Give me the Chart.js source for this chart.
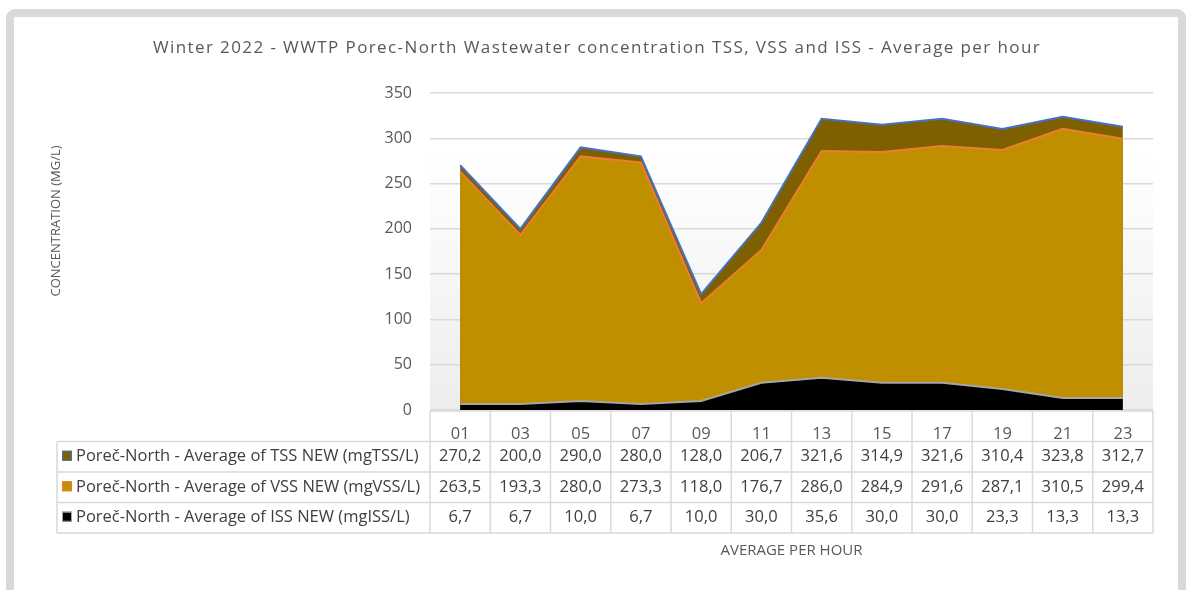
<!DOCTYPE html>
<html>
<head>
<meta charset="utf-8">
<title>WWTP Porec-North TSS VSS ISS</title>
<script src="https://cdn.jsdelivr.net/npm/chart.js@4.4.1/dist/chart.umd.min.js"></script>
<style>
  body { margin: 0; background: #fff; }
  canvas { display: block; }
</style>
</head>
<body>
<canvas id="myChart" width="1192" height="590"></canvas>
<script>
// chart text
var chartTitle = 'Winter 2022 - WWTP Porec-North Wastewater concentration TSS, VSS and ISS - Average per hour';
var yTitle = 'CONCENTRATION (MG/L)';
var xTitle = 'AVERAGE PER HOUR';

// categories along the x-axis (hour of day)
var hours = ['01', '03', '05', '07', '09', '11', '13', '15', '17', '19', '21', '23'];

// series names, as in the data table
var seriesNames = [
    'Poreč-North - Average of TSS NEW (mgTSS/L)',
    'Poreč-North - Average of VSS NEW (mgVSS/L)',
    'Poreč-North - Average of ISS NEW (mgISS/L)'
];

var tssValues = [270.2, 200.0, 290.0, 280.0, 128.0, 206.7, 321.6, 314.9, 321.6, 310.4, 323.8, 312.7];
var vssValues = [263.5, 193.3, 280.0, 273.3, 118.0, 176.7, 286.0, 284.9, 291.6, 287.1, 310.5, 299.4];
var issValues = [6.7, 6.7, 10.0, 6.7, 10.0, 30.0, 35.6, 30.0, 30.0, 23.3, 13.3, 13.3];

// y-axis range
var yMin = 0;
var yMax = 350;
var yStep = 50;

var fillColors = ['#7F6000', '#BF8F00', '#000000'];
var lineColors = ['#4472C4', '#ED7D31', '#A5A5A5'];
var allValues = [tssValues, vssValues, issValues];

var FONT = '"Open Sans", "DejaVu Sans", sans-serif';

function fmt(v) {
    return v.toFixed(1).replace('.', ',');
}

// frame, titles and plot background, then the data table under the plot
var excelLook = {
    id: 'excelLook',
    beforeDraw: function(chart) {
        var ctx = chart.ctx;
        var a = chart.chartArea;
        ctx.save();
        ctx.fillStyle = '#ffffff';
        ctx.fillRect(0, 0, chart.width, chart.height);

        ctx.strokeStyle = '#d9d9d9';
        ctx.lineWidth = 8;
        ctx.beginPath();
        if (ctx.roundRect) ctx.roundRect(10, 13, 1172, 620, 5);
        else ctx.rect(10, 13, 1172, 620);
        ctx.stroke();

        var g = ctx.createLinearGradient(0, a.top, 0, a.bottom);
        g.addColorStop(0, '#ffffff');
        g.addColorStop(0.2, '#ffffff');
        g.addColorStop(1, '#ededed');
        ctx.fillStyle = g;
        ctx.fillRect(a.left, a.top, a.right - a.left, a.bottom - a.top);

        ctx.fillStyle = '#595959';
        ctx.font = '17px ' + FONT;
        ctx.textAlign = 'center';
        ctx.textBaseline = 'middle';
        if ('letterSpacing' in ctx) ctx.letterSpacing = '1.4px';
        ctx.fillText(chartTitle, chart.width / 2 + 1, 48);
        if ('letterSpacing' in ctx) ctx.letterSpacing = '0px';

        // value axis title
        ctx.font = '13px ' + FONT;
        ctx.translate(56, 221);
        ctx.rotate(-Math.PI / 2);
        ctx.fillText(yTitle, 0, 0);
        ctx.restore();
    },
    afterDraw: function(chart) {
        var ctx = chart.ctx;
        var x = chart.scales.x;
        var a = chart.chartArea;
        var n = hours.length;
        var colW = (x.right - x.left) / n;
        var tableLeft = 57;
        var top = a.bottom + 1;
        var rowH = 30.5;
        var bottom = top + rowH * 4;

        ctx.save();
        ctx.strokeStyle = '#d9d9d9';
        ctx.lineWidth = 1.5;
        ctx.beginPath();
        // header row top
        ctx.moveTo(x.left, top);
        ctx.lineTo(x.right, top);
        // series rows
        for (var r = 1; r <= 4; r++) {
            ctx.moveTo(tableLeft, top + rowH * r);
            ctx.lineTo(x.right, top + rowH * r);
        }
        ctx.moveTo(tableLeft, top + rowH);
        ctx.lineTo(tableLeft, bottom);
        for (var c = 0; c <= n; c++) {
            ctx.moveTo(x.left + colW * c, top);
            ctx.lineTo(x.left + colW * c, bottom);
        }
        ctx.stroke();

        ctx.font = '16.5px ' + FONT;
        ctx.textBaseline = 'middle';
        for (var s = 0; s < allValues.length; s++) {
            var cy = top + rowH * (s + 1) + rowH / 2 - 1;
            // legend key
            ctx.fillStyle = fillColors[s];
            ctx.fillRect(62, cy - 5, 10, 10);
            ctx.strokeStyle = lineColors[s];
            ctx.lineWidth = 1;
            ctx.strokeRect(62.5, cy - 4.5, 9, 9);

            ctx.fillStyle = '#404040';
            ctx.textAlign = 'left';
            ctx.fillText(seriesNames[s], 76, cy + 1);

            ctx.textAlign = 'center';
            for (var i = 0; i < n; i++) {
                ctx.fillText(fmt(allValues[s][i]), x.getPixelForValue(i), cy + 1);
            }
        }
        ctx.restore();
    }
};

var datasets = [];
for (var s = 0; s < allValues.length; s++) {
    datasets.push({
        label: seriesNames[s],
        data: allValues[s],
        backgroundColor: fillColors[s],
        borderColor: lineColors[s],
        borderWidth: 2,
        fill: 'origin',
        pointRadius: 0,
        pointHoverRadius: 0,
        tension: 0,
        order: allValues.length - s
    });
}

var ctx = document.getElementById('myChart');
var myChart = new Chart(ctx, {
    type: 'line',
    data: {
        labels: hours,
        datasets: datasets
    },
    plugins: [excelLook],
    options: {
        responsive: false,
        animation: false,
        layout: {
            padding: { top: 93, right: 39, bottom: 0, left: 0 }
        },
        plugins: {
            legend: { display: false },
            tooltip: { enabled: false },
            title: { display: false }
        },
        scales: {
            x: {
                offset: true,
                grid: { display: false },
                border: { display: false },
                ticks: {
                    color: '#595959',
                    font: { family: FONT, size: 16.5 },
                    padding: 6,
                    autoSkip: false,
                    maxRotation: 0
                },
                title: {
                    display: true,
                    text: xTitle,
                    color: '#595959',
                    font: { family: FONT, size: 15 },
                    padding: { top: 0, bottom: 30 }
                },
                afterFit: function(scale) {
                    scale.height = 180;
                }
            },
            y: {
                min: yMin,
                max: yMax,
                ticks: {
                    stepSize: yStep,
                    color: '#595959',
                    font: { family: FONT, size: 16 },
                    padding: 18
                },
                grid: {
                    color: '#d9d9d9',
                    lineWidth: 1.5,
                    drawTicks: false
                },
                border: { display: false },
                afterFit: function(scale) {
                    scale.width = 430;
                }
            }
        }
    }
});
</script>
</body>
</html>
